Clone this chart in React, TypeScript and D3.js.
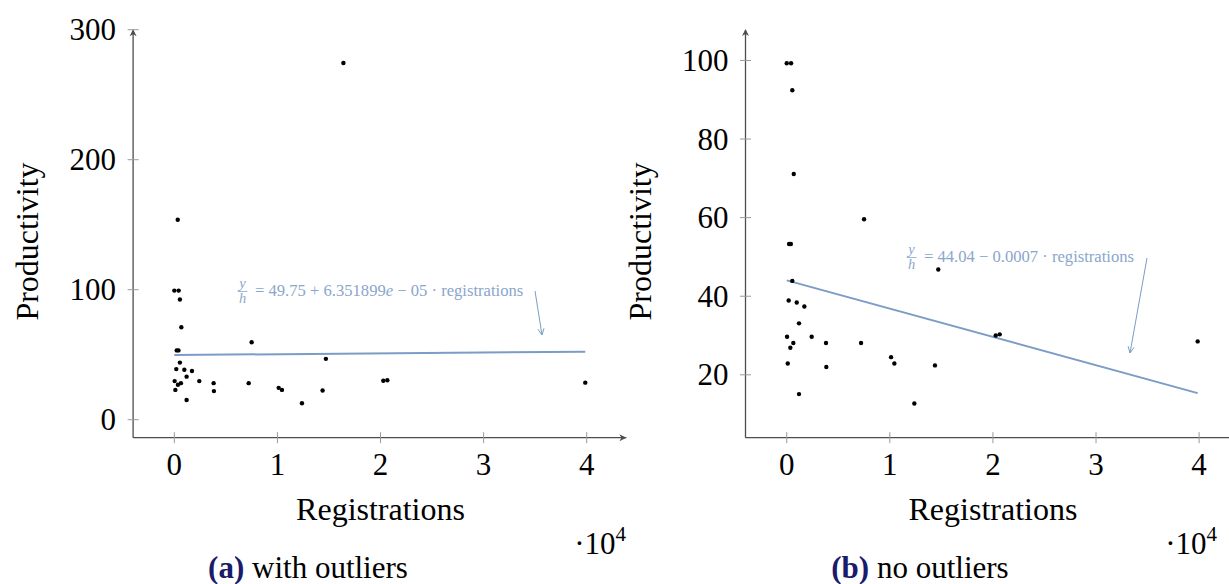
import * as d3 from "d3";

// registrations (raw counts) and productivity, shared by both panels
const registrations = [0, 420, 540, 680, 7500, 230, 400, 540, 190, 970, 1710, 1190, 30, 2420, 640, 350, 3810, 7210, 100, 3840, 10120, 10440, 1190, 12380, 14380, 14700, 20270, 20660, 39860];
const productivity = [99.3, 99.3, 92.4, 71.1, 59.6, 53.3, 53.3, 43.9, 38.9, 38.4, 37.4, 33.1, 29.7, 29.7, 28.1, 26.9, 28.1, 28.1, 22.9, 22.0, 24.5, 22.9, 15.1, 12.7, 22.4, 46.8, 30.0, 30.3, 28.5];

// points that only appear in panel (a)
const outlierRegistrations = [330, 16400];
const outlierProductivity = [153.8, 274.4];

const xTicks = [0, 1, 2, 3, 4];
const yTicksA = [0, 100, 200, 300];
const yTicksB = [20, 40, 60, 80, 100];

const fitA = { intercept: 49.75, slope: 6.351899e-5 };
const fitB = { intercept: 44.04, slope: -0.00072 };

const FONT = "'Liberation Serif', 'Times New Roman', serif";
const AXIS = "#4d4d4d";
const TICK = "#9a9a9a";
const FIT = "#7b9cc6";
const LABEL = "#8aa6cc";
const NAVY = "#1b1b6b";

type Pt = { x: number; y: number };

function Panel(props: {
  left: number;
  top: number;
  right: number;
  domainY: [number, number];
  yTicks: number[];
  points: Pt[];
  fit: { intercept: number; slope: number };
  eq: { x: number; y: number; parts: [string, string, string] };
  pointer: [number, number, number, number];
  caption: [string, string];
  captionX: number;
  scaleEndX: number;
  clipRight: number;
}) {
  const { left, top, right, domainY, yTicks, points, fit, eq, pointer } = props;
  const bottom = 437.7;
  const x = d3.scaleLinear().domain([-0.4, 4.385]).range([left, right]);
  const y = d3.scaleLinear().domain(domainY).range([bottom, top]);
  const regExtent = d3.extent(points, (d) => d.x) as [number, number];
  const fitLine = d3
    .line<number>()
    .x((r) => x(r / 1e4))
    .y((r) => y(fit.intercept + fit.slope * r));

  const axisEndX = Math.min(right, props.clipRight);
  const midX = x(2);
  const midY = (top + bottom) / 2 + 8;

  const [ax1, ay1, ax2, ay2] = pointer;
  const ang = Math.atan2(ay2 - ay1, ax2 - ax1);
  const head = (da: number) =>
    `${ax2 - 7 * Math.cos(ang + da)},${ay2 - 7 * Math.sin(ang + da)}`;

  return (
    <g>
      {/* axes */}
      <line x1={left} y1={bottom} x2={axisEndX} y2={bottom} stroke={AXIS} strokeWidth={1.3} />
      <line x1={left} y1={bottom} x2={left} y2={top + 1} stroke={AXIS} strokeWidth={1.3} />
      <path d={`M${left},${top} L${left - 3.5},${top + 7} L${left},${top + 5} L${left + 3.5},${top + 7} Z`} fill={AXIS} />
      {right <= props.clipRight && (
        <path d={`M${right},${bottom} L${right - 7},${bottom - 3.5} L${right - 5},${bottom} L${right - 7},${bottom + 3.5} Z`} fill={AXIS} />
      )}
      {xTicks.map((t) => (
        <g key={"x" + t}>
          <line x1={x(t)} x2={x(t)} y1={bottom - 5.5} y2={bottom + 5.5} stroke={TICK} strokeWidth={1} />
          <text x={x(t)} y={475} textAnchor="middle" fontSize={31} fontFamily={FONT}>{t}</text>
        </g>
      ))}
      {yTicks.map((t) => (
        <g key={"y" + t}>
          <line x1={left - 5.5} x2={left + 5.5} y1={y(t)} y2={y(t)} stroke={TICK} strokeWidth={1} />
          <text x={left - 17} y={y(t) + 10.5} textAnchor="end" fontSize={31} fontFamily={FONT}>{t}</text>
        </g>
      ))}

      {/* fit line */}
      <path d={fitLine(regExtent) ?? ""} fill="none" stroke={FIT} strokeWidth={2} />

      {/* points */}
      {points.map((d, i) => (
        <circle key={i} cx={x(d.x / 1e4)} cy={y(d.y)} r={2.2} fill="#000" />
      ))}

      {/* equation label */}
      <g fill={LABEL} fontFamily={FONT}>
        <text x={eq.x + 4.5} y={eq.y - 8} textAnchor="middle" fontSize={14.5} fontStyle="italic">y</text>
        <line x1={eq.x - 0.5} x2={eq.x + 9.5} y1={eq.y - 4.5} y2={eq.y - 4.5} stroke={LABEL} strokeWidth={0.8} />
        <text x={eq.x + 4.5} y={eq.y + 6.5} textAnchor="middle" fontSize={14.5} fontStyle="italic">h</text>
        <text x={eq.x + 17} y={eq.y} fontSize={16.6}>
          {eq.parts[0]}
          {eq.parts[1] && <tspan fontStyle="italic">{eq.parts[1]}</tspan>}
          {eq.parts[2]}
        </text>
      </g>
      <line x1={ax1} y1={ay1} x2={ax2} y2={ay2} stroke={FIT} strokeWidth={1} />
      <polyline points={`${head(0.45)} ${ax2},${ay2} ${head(-0.45)}`} fill="none" stroke={FIT} strokeWidth={1} />

      {/* axis labels */}
      <text x={midX} y={520} textAnchor="middle" fontSize={32} fontFamily={FONT}>Registrations</text>
      <text x={props.scaleEndX} y={554} textAnchor="end" fontSize={31} fontFamily={FONT}>
        ·10<tspan fontSize={21} dy={-13}>4</tspan>
      </text>
      <text
        transform={`translate(${left - 95},${midY}) rotate(-90)`}
        textAnchor="middle"
        fontSize={32}
        fontFamily={FONT}
      >
        Productivity
      </text>

      {/* caption */}
      <text x={props.captionX} y={578} textAnchor="middle" fontSize={31} fontFamily={FONT}>
        <tspan fontWeight="bold" fill={NAVY}>{props.caption[0]}</tspan> {props.caption[1]}
      </text>
    </g>
  );
}

export default function App() {
  const base: Pt[] = registrations.map((r, i) => ({ x: r, y: productivity[i] }));
  const withOutliers: Pt[] = base.concat(
    outlierRegistrations.map((r, i) => ({ x: r, y: outlierProductivity[i] }))
  );
  const W = 1229;
  const H = 584;
  return (
    <svg
      width={W}
      height={H}
      viewBox={`0 0 ${W} ${H}`}
      style={{ position: "absolute", left: 0, top: 0, background: "#fff" }}
    >
      <Panel
        left={133.1}
        top={29.3}
        right={626.4}
        domainY={[-13.85, 300.3]}
        yTicks={yTicksA}
        points={withOutliers}
        fit={fitA}
        eq={{ x: 238, y: 296, parts: ["= 49.75 + 6.351899", "e", " − 05 · registrations"] }}
        pointer={[535, 291, 542, 335]}
        caption={["(a)", "with outliers"]}
        captionX={308}
        scaleEndX={626}
        clipRight={W}
      />
      <Panel
        left={745.5}
        top={29}
        right={1238.8}
        domainY={[4, 108]}
        yTicks={yTicksB}
        points={base}
        fit={fitB}
        eq={{ x: 907, y: 262, parts: ["= 44.04 − 0.0007 · registrations", "", ""] }}
        pointer={[1147, 258, 1130, 353]}
        caption={["(b)", "no outliers"]}
        captionX={920}
        scaleEndX={1217}
        clipRight={W}
      />
    </svg>
  );
}
